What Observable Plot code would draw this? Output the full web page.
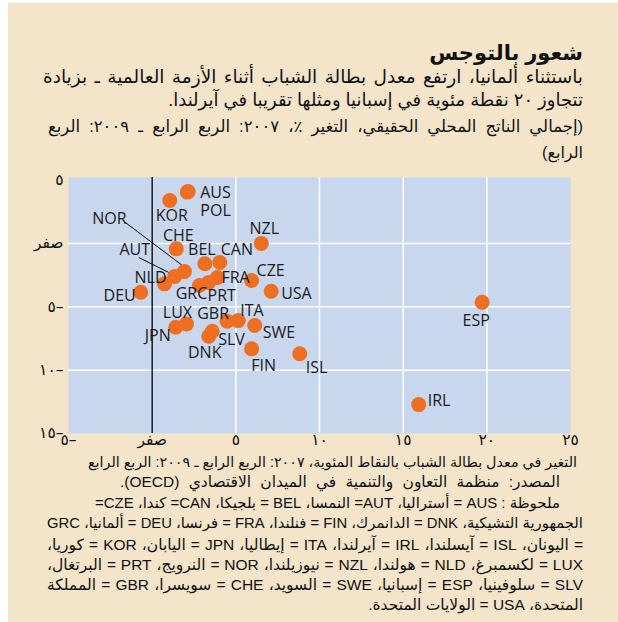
<!DOCTYPE html>
<html>
<head>
<meta charset="utf-8">
<script src="https://cdn.jsdelivr.net/npm/d3@7"></script>
<script src="https://cdn.jsdelivr.net/npm/@observablehq/plot@0.6"></script>
<style>
  html, body { margin: 0; padding: 0; background: #ffffff; }
  body { width: 618px; height: 622px; position: relative; overflow: hidden; }
  #panel { position: absolute; left: 8px; top: 3px; width: 610px; height: 619px; background: #f3e4ca; }
  .ln { position: absolute; white-space: nowrap; direction: rtl; color: #111;
        font-family: "Liberation Sans", "DejaVu Sans", sans-serif; }
  #chart { position: absolute; left: 0; top: 165px; }
</style>
</head>
<body>
<div id="panel"></div>

<div class="ln" data-r="583" data-y="53" data-fs="21" style="font-weight:bold">شعور بالتوجس</div>
<div class="ln" data-l="43" data-r="583" data-y="77" data-fs="18.5">باستثناء ألمانيا، ارتفع معدل بطالة الشباب أثناء الأزمة العالمية ـ بزيادة</div>
<div class="ln" data-r="583" data-y="101" data-fs="18">تتجاوز ٢٠ نقطة مئوية في إسبانيا ومثلها تقريبا في آيرلندا.</div>
<div class="ln" data-l="48" data-r="583" data-y="127" data-fs="16.5">(إجمالي الناتج المحلي الحقيقي، التغير ٪، ٢٠٠٧: الربع الرابع ـ ٢٠٠٩: الربع</div>
<div class="ln" data-r="583" data-y="153" data-fs="16">الرابع)</div>

<div id="chart"></div>

<div class="ln" data-l="88" data-r="577" data-y="462" data-fs="15.5">التغير في معدل بطالة الشباب بالنقاط المئوية، ٢٠٠٧: الربع الرابع ـ ٢٠٠٩: الربع الرابع</div>
<div class="ln" data-l="120" data-r="560" data-y="482" data-fs="15.5">المصدر: منظمة التعاون والتنمية في الميدان الاقتصادي (OECD).</div>
<div class="ln" data-l="95" data-r="560" data-y="503" data-fs="15.5">ملحوظة : AUS = أستراليا، AUT= النمسا، BEL = بلجيكا، CAN= كندا، CZE=</div>
<div class="ln" data-l="47" data-r="583" data-y="524" data-fs="15.5">الجمهورية التشيكية، DNK = الدانمرك، FIN = فنلندا، FRA = فرنسا، DEU = ألمانيا، GRC</div>
<div class="ln" data-l="47" data-r="583" data-y="545" data-fs="15.5">= اليونان، ISL = آيسلندا، IRL = آيرلندا، ITA = إيطاليا، JPN = اليابان، KOR = كوريا،</div>
<div class="ln" data-l="47" data-r="583" data-y="565" data-fs="15.5">LUX = لكسمبرغ، NLD = هولندا، NZL = نيوزيلندا، NOR = النرويج، PRT = البرتغال،</div>
<div class="ln" data-l="47" data-r="583" data-y="585" data-fs="15.5">SLV = سلوفينيا، ESP = إسبانيا، SWE = السويد، CHE = سويسرا، GBR = المملكة</div>
<div class="ln" data-r="583" data-y="605" data-fs="15.5">المتحدة، USA = الولايات المتحدة.</div>

<script>
// ---- data ----
const countries = ["AUS","POL","KOR","CHE","BEL","CAN","NZL","CZE","USA","FRA","GRC","PRT","NOR","AUT","NLD","DEU","LUX","JPN","GBR","ITA","SWE","SLV","DNK","FIN","ISL","ESP","IRL"];
// change in youth unemployment rate, percentage points (x)
const unemploymentChange = [2.15, 2.1, 1.05, 1.44, 3.15, 4.04, 6.52, 5.94, 7.11, 3.9, 2.83, 3.37, 1.93, 1.35, 0.74, -0.68, 2.05, 1.41, 4.48, 5.14, 6.13, 3.59, 3.38, 5.94, 8.82, 19.72, 15.93];
// real GDP change, percent (y)
const gdpChange = [4.1, 4.05, 3.38, -0.43, -1.61, -1.51, 0.0, -2.93, -3.77, -2.69, -3.32, -3.09, -2.22, -2.61, -3.19, -3.85, -6.35, -6.62, -6.14, -6.09, -6.48, -6.93, -7.33, -8.32, -8.71, -4.64, -12.72];

const xTicks = [-5, 0, 5, 10, 15, 20, 25];
const xTickLabels = ["٥–", "صفر", "٥", "١٠", "١٥", "٢٠", "٢٥"];
const yTicks = [5, 0, -5, -10, -15];
const yTickLabels = ["٥", "صفر", "٥–", "١٠–", "١٥–"];

// ---- layout ----
const W = 618, H = 290, ML = 68, MR = 48, MT = 12, MB = 22;
const xDomain = [-5, 25], yDomain = [-15, 5.2];
const pxPerX = (W - ML - MR) / (xDomain[1] - xDomain[0]);
const pxPerY = (H - MT - MB) / (yDomain[1] - yDomain[0]);

const data = countries.map((c, i) => ({code: c, x: unemploymentChange[i], y: gdpChange[i]}));

// label placement: [anchor, dx(px), dy(px)]
const labelLayout = {
  AUS: ["start", 12, 1], POL: ["start", 13, 19], KOR: ["middle", 2, 15], CHE: ["middle", 2, -13],
  BEL: ["middle", -3, -14], CAN: ["start", 1, -13], NZL: ["middle", 3, -15], CZE: ["start", 5, -10],
  USA: ["start", 10, 3], FRA: ["start", 4, 0], GRC: ["middle", -8, 8], PRT: ["start", -1, 13],
  NOR: ["middle", -75, -53], AUT: ["middle", -40, -27], NLD: ["end", 2, -6], DEU: ["end", -5, 4],
  LUX: ["middle", -9, -11], JPN: ["end", -5, 9], GBR: ["middle", -14, -7], ITA: ["start", 2, -10],
  SWE: ["start", 8, 7], SLV: ["start", 6, 9], DNK: ["middle", -4, 17], FIN: ["middle", 12, 17],
  ISL: ["start", 6, 14], ESP: ["middle", -6, 19], IRL: ["start", 9, -4]
};
// leader lines: pixel offsets from the dot [x1, y1, x2, y2]
const leaderLayout = { NOR: [-59, -49, -2, -6], AUT: [-36, -19, -6, -4] };
const leaders = data.filter(d => leaderLayout[d.code]).map(d => {
  const o = leaderLayout[d.code];
  return {x1: d.x + o[0] / pxPerX, y1: d.y - o[1] / pxPerY, x2: d.x + o[2] / pxPerX, y2: d.y - o[3] / pxPerY};
});

const labelFont = {fontFamily: "'Open Sans', sans-serif", fontSize: 16, fill: "#1b1b1b"};
const labelMarks = data.map(d => {
  const [anchor, dx, dy] = labelLayout[d.code];
  return Plot.text([d], {x: "x", y: "y", text: "code", textAnchor: anchor, dx, dy, ...labelFont});
});

const chart = Plot.plot({
  width: W, height: H, marginLeft: ML, marginRight: MR, marginTop: MT, marginBottom: MB,
  style: {background: "transparent", fontFamily: "'DejaVu Sans', sans-serif", fontSize: "15px", color: "#111", overflow: "visible"},
  x: {domain: xDomain, axis: null},
  y: {domain: yDomain, axis: null},
  marks: [
    Plot.frame({fill: "#c8d6ee", stroke: null}),
    Plot.ruleX(xTicks.filter(v => v > xDomain[0] && v < xDomain[1] && v !== 0), {stroke: "white", strokeWidth: 1.5}),
    Plot.ruleY(yTicks.filter(v => v > yDomain[0] && v < 5), {stroke: "white", strokeWidth: 1.5}),
    Plot.ruleX([0], {stroke: "black", strokeWidth: 1.3}),
    Plot.link(leaders, {x1: "x1", y1: "y1", x2: "x2", y2: "y2", stroke: "black", strokeWidth: 1}),
    Plot.dot(data, {x: "x", y: "y", r: 7.5, fill: "#ef6f22", stroke: null}),
    ...labelMarks,
    Plot.text(xTicks, {x: d => d, frameAnchor: "bottom", dy: 11, text: (d, i) => xTickLabels[i], fill: "#111", fontSize: 15.5}),
    Plot.text(yTicks, {y: d => d, frameAnchor: "left", dx: -5, textAnchor: "end", text: (d, i) => yTickLabels[i], fill: "#111", fontSize: 15.5})
  ]
});
document.getElementById("chart").appendChild(chart);

// ---- text line layout (right-aligned, optionally justified) ----
document.querySelectorAll(".ln").forEach(el => {
  let fs = +el.dataset.fs;
  const r = +el.dataset.r, y = +el.dataset.y;
  el.style.fontSize = fs + "px";
  el.style.lineHeight = (fs * 1.3) + "px";
  el.style.right = (W - r) + "px";
  let w = el.getBoundingClientRect().width;
  if (el.dataset.l) {
    const target = r - +el.dataset.l;
    if (w > target) {
      fs = fs * target / w;
      el.style.fontSize = fs + "px";
      el.style.lineHeight = (fs * 1.3) + "px";
      w = el.getBoundingClientRect().width;
    }
    const spaces = (el.textContent.match(/ /g) || []).length;
    if (spaces > 0) el.style.wordSpacing = ((target - w) / spaces) + "px";
  }
  el.style.top = (y - fs * 0.65) + "px";
});
</script>
</body>
</html>
